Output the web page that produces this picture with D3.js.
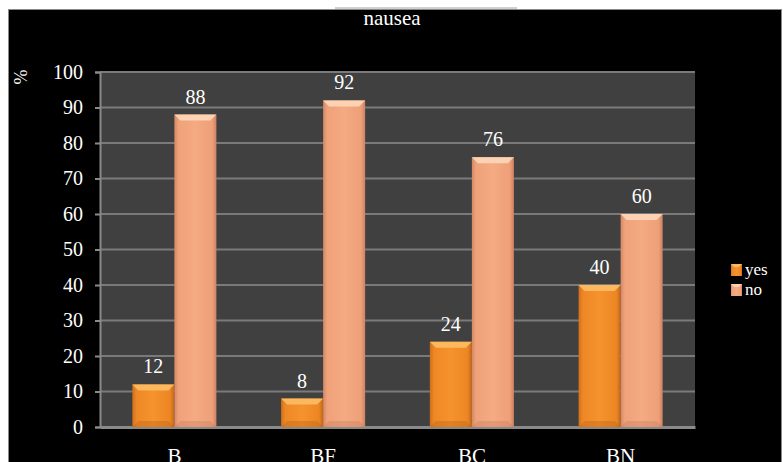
<!DOCTYPE html>
<html>
<head>
<meta charset="utf-8">
<script src="https://cdn.jsdelivr.net/npm/d3@7"></script>
<style>
  html, body { margin: 0; padding: 0; background: #ffffff; }
  svg { display: block; }
</style>
</head>
<body>
<script>
const categories = ["B", "BF", "BC", "BN"];
const seriesNames = ["yes", "no"];
const yesValues = [12, 8, 24, 40];
const noValues = [88, 92, 76, 60];
const yTickValues = [0, 10, 20, 30, 40, 50, 60, 70, 80, 90, 100];
const chartTitle = "nausea";
const yAxisLabel = "%";

const W = 783, H = 462;
const plot = { left: 100, right: 695, top: 72, bottom: 427 };
const FONT = "'Liberation Serif', 'Times New Roman', serif";

const svg = d3.select("body").append("svg").attr("width", W).attr("height", H);

// outer frame
svg.append("rect").attr("x", 0).attr("y", 0).attr("width", W).attr("height", H).attr("fill", "#ffffff");
svg.append("rect").attr("x", 8.5).attr("y", 9.5).attr("width", 773).attr("height", 460)
  .attr("fill", "#000000").attr("stroke", "#8a8a8a").attr("stroke-width", 1);
svg.append("line").attr("x1", 335).attr("x2", 517).attr("y1", 8).attr("y2", 8)
  .attr("stroke", "#a0a0a0").attr("stroke-width", 1);

const defs = svg.append("defs");
function grad(id, stops) {
  const g = defs.append("linearGradient").attr("id", id).attr("x1", "0").attr("x2", "1").attr("y1", "0").attr("y2", "0");
  stops.forEach(s => g.append("stop").attr("offset", s[0]).attr("stop-color", s[1]));
}
grad("gYes", [[0, "#d0701c"], [0.1, "#ee8826"], [0.5, "#f5932e"], [0.9, "#ec8624"], [1, "#c26616"]]);
grad("gNo", [[0, "#d48866"], [0.1, "#f0a27a"], [0.5, "#f5aa82"], [0.9, "#eea078"], [1, "#cc8262"]]);
const palette = {
  yes: { fill: "url(#gYes)", top: "#fbb85e", bottom: "#b85f14" },
  no: { fill: "url(#gNo)", top: "#fcd2b4", bottom: "#c07a5c" }
};

// scales
const y = d3.scaleLinear().domain([0, 100]).range([plot.bottom, plot.top]);
const x0 = d3.scaleBand().domain(categories).range([plot.left, plot.right]).paddingInner(0.435).paddingOuter(0.2175);
const x1 = d3.scaleBand().domain(seriesNames).range([0, x0.bandwidth()]);

// plot background
svg.append("rect").attr("x", plot.left).attr("y", plot.top)
  .attr("width", plot.right - plot.left).attr("height", plot.bottom - plot.top).attr("fill", "#404040");

// gridlines
svg.append("g").selectAll("line").data(yTickValues.filter(d => d > 0)).join("line")
  .attr("x1", plot.left).attr("x2", plot.right)
  .attr("y1", d => y(d)).attr("y2", d => y(d))
  .attr("stroke", "#7a7a7a").attr("stroke-width", 2);

// y axis
const yAxis = d3.axisLeft(y).tickValues(yTickValues).tickSize(5).tickPadding(12).tickFormat(d3.format("d"));
const gy = svg.append("g").attr("transform", `translate(${plot.left},0)`).call(yAxis);
gy.select(".domain").attr("stroke", "#8a8a8a").attr("stroke-width", 2);
gy.selectAll(".tick line").attr("stroke", "#8a8a8a").attr("stroke-width", 2);
gy.selectAll(".tick text").attr("fill", "#ffffff").style("font-family", FONT).style("font-size", "20px");

// x axis
const xAxis = d3.axisBottom(x0).tickSize(0).tickPadding(21);
const gx = svg.append("g").attr("transform", `translate(0,${plot.bottom})`).call(xAxis);
gx.select(".domain").attr("stroke", "#8a8a8a").attr("stroke-width", 3);
gx.selectAll(".tick text").attr("fill", "#ffffff").style("font-family", FONT).style("font-size", "21px");

// bars
const rows = [];
categories.forEach((c, i) => {
  rows.push({ cat: c, s: "yes", v: yesValues[i] });
  rows.push({ cat: c, s: "no", v: noValues[i] });
});
const gBars = svg.append("g");
rows.forEach(r => {
  const bx = x0(r.cat) + x1(r.s), bw = x1.bandwidth();
  const by = y(r.v), bh = y(0) - y(r.v);
  const b = Math.min(6, bh / 2);
  const p = palette[r.s];
  gBars.append("rect").attr("x", bx).attr("y", by).attr("width", bw).attr("height", bh).attr("fill", p.fill);
  gBars.append("path")
    .attr("d", `M${bx},${by}L${bx + bw},${by}L${bx + bw - b},${by + b}L${bx + b},${by + b}Z`)
    .attr("fill", p.top);
  gBars.append("path")
    .attr("d", `M${bx},${by + bh}L${bx + bw},${by + bh}L${bx + bw - b},${by + bh - b}L${bx + b},${by + bh - b}Z`)
    .attr("fill", p.bottom).attr("opacity", 0.35);
  gBars.append("text")
    .attr("x", bx + bw / 2).attr("y", by - 11)
    .attr("text-anchor", "middle").attr("fill", "#ffffff")
    .style("font-family", FONT).style("font-size", "20px")
    .text(r.v);
});

// title
svg.append("text").attr("x", 392).attr("y", 25).attr("text-anchor", "middle")
  .attr("fill", "#ffffff").style("font-family", FONT).style("font-size", "21px").text(chartTitle);

// y axis label
svg.append("text").attr("transform", "translate(27,77) rotate(-90)").attr("text-anchor", "middle")
  .attr("fill", "#ffffff").style("font-family", FONT).style("font-size", "18px").text(yAxisLabel);

// legend
const legend = svg.append("g");
seriesNames.forEach((s, i) => {
  const ly = 270 + i * 20;
  const p = palette[s];
  legend.append("rect").attr("x", 731).attr("y", ly - 6).attr("width", 11).attr("height", 12).attr("fill", p.fill);
  legend.append("path").attr("d", `M731,${ly - 6}L742,${ly - 6}L739,${ly - 3}L734,${ly - 3}Z`).attr("fill", p.top);
  legend.append("text").attr("x", 745).attr("y", ly + 5).attr("fill", "#ffffff")
    .style("font-family", FONT).style("font-size", "17px").text(s);
});
</script>
</body>
</html>
